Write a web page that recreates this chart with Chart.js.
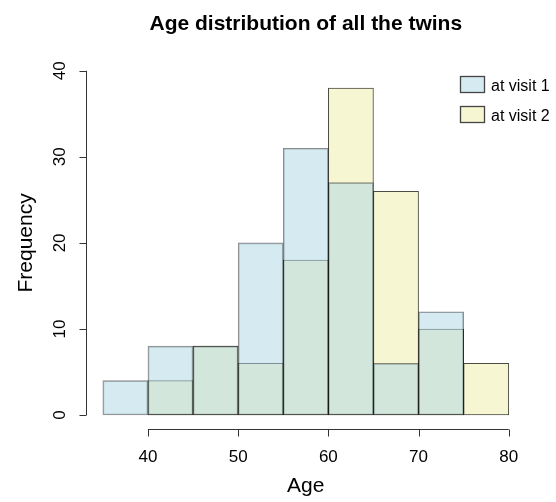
<!DOCTYPE html>
<html>
<head>
<meta charset="utf-8">
<script src="https://cdn.jsdelivr.net/npm/chart.js@4/dist/chart.umd.min.js"></script>
<style>
  html, body { margin: 0; padding: 0; background: #ffffff; }
  #wrap { width: 556px; height: 502px; position: relative; }
</style>
</head>
<body>
<div id="wrap"><canvas id="c" width="556" height="502"></canvas></div>
<script>
// Histogram bins (5-year age classes) and counts per visit
const binStarts = [35, 40, 45, 50, 55, 60, 65, 70, 75];
const binWidth = 5;
const visit1Counts = [4, 8, 8, 20, 31, 27, 6, 12, 0];
const visit2Counts = [0, 4, 8, 6, 18, 38, 26, 10, 6];
const xTicks = [40, 50, 60, 70, 80];
const yTicks = [0, 10, 20, 30, 40];
const seriesNames = ['at visit 1', 'at visit 2'];

const FONT = '"Liberation Sans", Arial, Helvetica, sans-serif';
const BLUE_FILL = 'rgba(173, 213, 227, 0.5)';
const BLUE_EDGE = 'rgba(0, 0, 0, 0.45)';
const YELLOW_FILL = 'rgb(246, 246, 210)';
const YELLOW_EDGE = 'rgba(30, 30, 20, 0.8)';

function toPoints(counts) {
  return binStarts.map((s, i) => ({ x: s + binWidth / 2, y: counts[i] > 0 ? counts[i] : null }));
}

// R-style axes, title and legend drawn from the chart's own scales
const baseGraphics = {
  id: 'baseGraphics',
  afterDraw(chart) {
    const ctx = chart.ctx;
    const xs = chart.scales.x, ys = chart.scales.y;
    const area = chart.chartArea;
    const midX = (area.left + area.right) / 2;
    ctx.save();
    ctx.strokeStyle = '#333';
    ctx.lineWidth = 1;
    ctx.fillStyle = '#000';

    // x axis
    const axY = Math.round(area.bottom) + 0.5;
    const x0 = xs.getPixelForValue(xTicks[0]);
    const x1 = xs.getPixelForValue(xTicks[xTicks.length - 1]);
    ctx.beginPath();
    ctx.moveTo(x0, axY); ctx.lineTo(x1, axY);
    xTicks.forEach(v => {
      const px = Math.round(xs.getPixelForValue(v)) + 0.5;
      ctx.moveTo(px, axY); ctx.lineTo(px, axY + 7);
    });
    ctx.stroke();
    ctx.font = '17px ' + FONT;
    ctx.textAlign = 'center';
    ctx.textBaseline = 'alphabetic';
    xTicks.forEach(v => ctx.fillText(String(v), xs.getPixelForValue(v), 462));

    // y axis
    const axX = Math.round(area.left) - 0.5;
    const y0 = ys.getPixelForValue(yTicks[0]);
    const y1 = ys.getPixelForValue(yTicks[yTicks.length - 1]);
    ctx.beginPath();
    ctx.moveTo(axX, y0); ctx.lineTo(axX, y1);
    yTicks.forEach(v => {
      const py = Math.round(ys.getPixelForValue(v)) + 0.5;
      ctx.moveTo(axX, py); ctx.lineTo(axX - 7, py);
    });
    ctx.stroke();
    yTicks.forEach(v => {
      ctx.save();
      ctx.translate(65, ys.getPixelForValue(v));
      ctx.rotate(-Math.PI / 2);
      ctx.fillText(String(v), 0, 0);
      ctx.restore();
    });

    // axis titles
    ctx.font = '21px ' + FONT;
    ctx.fillText('Age', midX, 492);
    ctx.save();
    ctx.translate(32, (area.top + area.bottom) / 2);
    ctx.rotate(-Math.PI / 2);
    ctx.fillText('Frequency', 0, 0);
    ctx.restore();

    // main title
    ctx.font = 'bold 21px ' + FONT;
    ctx.fillText('Age distribution of all the twins', midX, 30);

    // legend
    const fills = ['rgb(214, 234, 241)', YELLOW_FILL];
    ctx.font = '16px ' + FONT;
    ctx.textAlign = 'left';
    [[76, 91], [106, 121]].forEach((pos, i) => {
      ctx.fillStyle = fills[i];
      ctx.fillRect(460.5, pos[0] + 0.5, 24, 16);
      ctx.strokeStyle = '#444';
      ctx.lineWidth = 1.3;
      ctx.strokeRect(460.5, pos[0] + 0.5, 24, 16);
      ctx.fillStyle = '#000';
      ctx.fillText(seriesNames[i], 491, pos[1]);
    });
    ctx.restore();
  }
};

new Chart(document.getElementById('c'), {
  type: 'bar',
  data: {
    datasets: [
      {
        label: seriesNames[0],
        data: toPoints(visit1Counts),
        backgroundColor: BLUE_FILL,
        borderColor: BLUE_EDGE,
        borderWidth: 1,
        borderSkipped: false,
        grouped: false,
        barPercentage: 1,
        categoryPercentage: 1,
        order: 0
      },
      {
        label: seriesNames[1],
        data: toPoints(visit2Counts),
        backgroundColor: YELLOW_FILL,
        borderColor: YELLOW_EDGE,
        borderWidth: 1,
        borderSkipped: false,
        grouped: false,
        barPercentage: 1,
        categoryPercentage: 1,
        order: 1
      }
    ]
  },
  options: {
    responsive: false,
    animation: false,
    layout: { padding: { left: 86.6, right: 31, top: 57, bottom: 73.2 } },
    scales: {
      x: { type: 'linear', min: 33.2, max: 81.8, offset: false, display: false },
      y: { type: 'linear', min: -1.6, max: 41.6, display: false }
    },
    plugins: {
      legend: { display: false },
      title: { display: false },
      tooltip: { enabled: false }
    }
  },
  plugins: [baseGraphics]
});
</script>
</body>
</html>
